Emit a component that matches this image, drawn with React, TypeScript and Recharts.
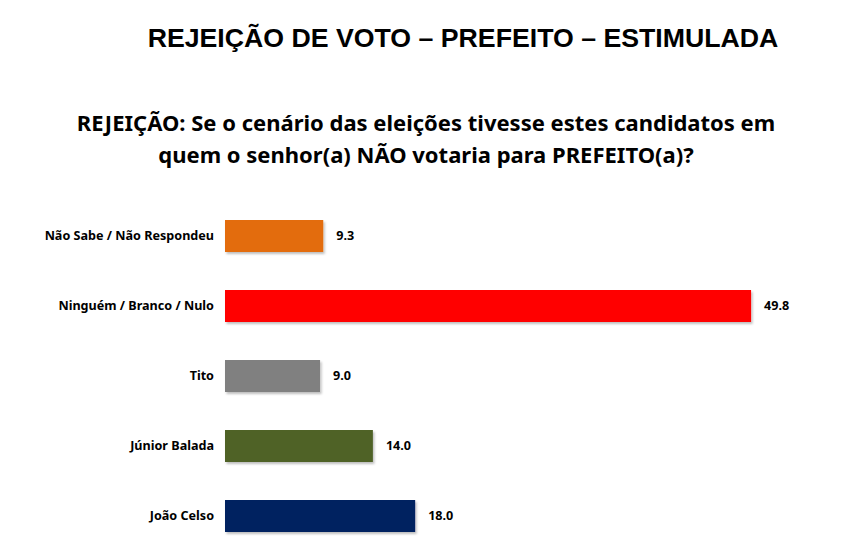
import React from "react";
import { BarChart, Bar, XAxis, YAxis, LabelList, Cell } from "recharts";

const categories = [
  "Não Sabe / Não Respondeu",
  "Ninguém / Branco / Nulo",
  "Tito",
  "Júnior Balada",
  "João Celso",
];
const values = [9.3, 49.8, 9.0, 14.0, 18.0];
const barColors = ["#E36C0A", "#FF0000", "#808080", "#4F6228", "#002060"];

const data = categories.map((name, i) => ({ name, value: values[i] }));

const LABEL_FONT = "'Noto Sans', 'Open Sans', sans-serif";

const CategoryTick = ({ x, y, payload }: any) => (
  <text
    x={x}
    y={y}
    dy={4}
    textAnchor="end"
    fontFamily={LABEL_FONT}
    fontWeight={700}
    fontSize={12.6}
    fill="#000"
  >
    {payload.value}
  </text>
);

export default function App() {
  return (
    <div
      style={{
        position: "absolute",
        left: 0,
        top: 0,
        width: 848,
        height: 537,
        overflow: "hidden",
        background: "#fff",
      }}
    >
      <svg width={848} height={200} style={{ position: "absolute", left: 0, top: 0 }}>
        <text
          x={463}
          y={47}
          textAnchor="middle"
          fontFamily="'Liberation Sans', Arial, sans-serif"
          fontWeight={700}
          fontSize={26.7}
          fill="#000"
        >
          REJEIÇÃO DE VOTO – PREFEITO – ESTIMULADA
        </text>
        <text
          x={426}
          y={131}
          textAnchor="middle"
          fontFamily={LABEL_FONT}
          fontWeight={700}
          fontSize={22}
          fill="#000"
        >
          REJEIÇÃO: Se o cenário das eleições tivesse estes candidatos em
        </text>
        <text
          x={426}
          y={163}
          textAnchor="middle"
          fontFamily={LABEL_FONT}
          fontWeight={700}
          fontSize={22}
          fill="#000"
        >
          quem o senhor(a) NÃO votaria para PREFEITO(a)?
        </text>
      </svg>

      <div style={{ position: "absolute", left: 0, top: 201 }}>
        <BarChart
          width={848}
          height={350}
          layout="vertical"
          data={data}
          margin={{ top: 0, right: 42, bottom: 0, left: 0 }}
          barCategoryGap={19}
        >
          <defs>
            <filter id="barShadow" x="-5%" y="-20%" width="115%" height="160%">
              <feDropShadow dx={1.5} dy={2} stdDeviation={1.2} floodColor="#000" floodOpacity={0.25} />
            </filter>
          </defs>
          <XAxis type="number" domain={[0, 55]} hide />
          <YAxis
            type="category"
            dataKey="name"
            width={225}
            axisLine={false}
            tickLine={false}
            tickSize={0}
            tickMargin={11}
            tick={<CategoryTick />}
          />
          <Bar dataKey="value" barSize={32} isAnimationActive={false} filter="url(#barShadow)">
            {data.map((d, i) => (
              <Cell key={d.name} fill={barColors[i]} />
            ))}
            <LabelList
              dataKey="value"
              position="right"
              offset={13}
              formatter={(v: any) => Number(v).toFixed(1)}
              style={{ fontFamily: LABEL_FONT, fontWeight: 700, fontSize: 12.6, fill: "#000" }}
            />
          </Bar>
        </BarChart>
      </div>
    </div>
  );
}
